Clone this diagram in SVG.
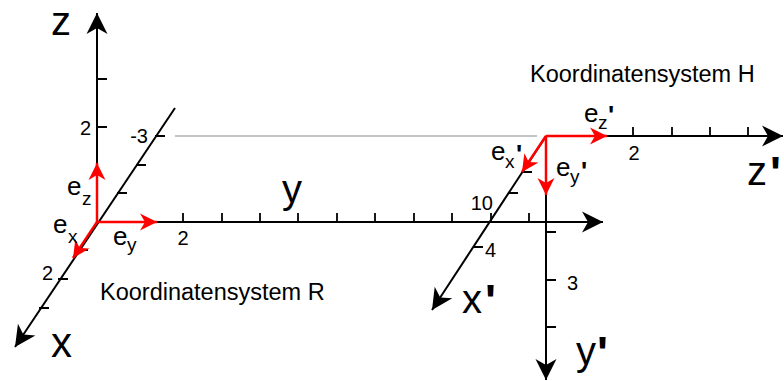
<svg xmlns="http://www.w3.org/2000/svg" width="784" height="381" viewBox="0 0 784 381">
<style>
text{font-family:"Liberation Sans",Arial,sans-serif;fill:#000}
.ax{stroke:#000;stroke-width:2;fill:none}
.tk{stroke:#000;stroke-width:1.8;fill:none}
.rd{stroke:#f00;stroke-width:2.5;fill:none}
.big{font-size:40px}
.num{font-size:20px}
.e{font-size:26px}
.sub{font-size:19px}
.pr{font-size:46px;font-weight:bold}
.spr{font-size:26px;font-weight:bold}
.ttl{font-size:23.5px}
</style>
<defs>
<marker id="ab" markerUnits="userSpaceOnUse" viewBox="-22 -12 24 24" markerWidth="24" markerHeight="24" refX="0" refY="0" orient="auto" overflow="visible">
<path d="M0,0 L-21,-10.5 L-15,0 L-21,10.5 Z" fill="#000"/>
</marker>
<marker id="ar" markerUnits="userSpaceOnUse" viewBox="-20 -10 22 20" markerWidth="22" markerHeight="20" refX="0" refY="0" orient="auto" overflow="visible">
<path d="M0,0 L-17,-8.5 L-12,0 L-17,8.5 Z" fill="#f00"/>
</marker>
</defs>
<rect width="784" height="381" fill="#fff"/>
<g id="guide">
<line x1="175" y1="136" x2="537" y2="136" stroke="#8a8a8a" stroke-width="1"/>
</g>
<g id="systemR">
<g id="axis-z">
<line class="ax" x1="97" y1="222" x2="97" y2="13" marker-end="url(#ab)"/>
<path class="tk" d="M97,79 h10 M97,127 h10"/>
<text class="big" x="51" y="35">z</text>
<text class="num" x="91" y="135" text-anchor="end">2</text>
</g>
<g id="axis-y">
<line class="ax" x1="97" y1="222" x2="603" y2="222" marker-end="url(#ab)"/>
<path class="tk" d="M183,222 v-9 M222,222 v-9 M260,222 v-9 M298,222 v-9 M337,222 v-9 M375,222 v-9 M414,222 v-9 M452,222 v-9 M491,222 v-9 M529,222 v-9"/>
<text class="big" x="282" y="203">y</text>
<text class="num" x="183" y="245" text-anchor="middle">2</text>
</g>
<g id="axis-x">
<line class="ax" x1="175" y1="108" x2="15" y2="347" marker-end="url(#ab)"/>
<path class="tk" d="M155,136 h10 M136,165 h10 M117,193 h10 M78,250 h10 M58,279 h10 M39,308 h10"/>
<text class="big" x="51" y="357" style="font-size:42px">x</text>
<text class="num" x="53" y="280" text-anchor="end">2</text>
<text class="num" x="148" y="143" text-anchor="end">-3</text>
</g>
<g id="basis-R">
<line class="rd" x1="97" y1="222" x2="97" y2="163" marker-end="url(#ar)"/>
<line class="rd" x1="97" y1="222" x2="157" y2="222" marker-end="url(#ar)"/>
<line class="rd" x1="97" y1="222" x2="73" y2="258" marker-end="url(#ar)"/>
<text class="e" x="67" y="195">e<tspan class="sub" x="82" y="205">z</tspan></text>
<text class="e" x="53" y="233">e<tspan class="sub" x="68" y="243">x</tspan></text>
<text class="e" x="113" y="245">e<tspan class="sub" x="127" y="251">y</tspan></text>
</g>
<text class="ttl" x="100" y="300">Koordinatensystem R</text>
</g>
<g id="systemH">
<g id="axis-z2">
<line class="ax" x1="546" y1="136" x2="783" y2="136" marker-end="url(#ab)"/>
<path class="tk" d="M633,136 v-9 M672,136 v-9 M710,136 v-9 M748,136 v-9"/>
<text class="big" x="747" y="185">z<tspan class="pr" dx="3" dy="4">'</tspan></text>
<text class="num" x="634" y="160" text-anchor="middle">2</text>
</g>
<g id="axis-y2">
<line class="ax" x1="546" y1="136" x2="546" y2="380" marker-end="url(#ab)"/>
<path class="tk" d="M546,232 h10 M546,280 h10 M546,327 h10"/>
<text class="big" x="576" y="365">y<tspan class="pr" dx="1" dy="4">'</tspan></text>
<text class="num" x="567" y="290">3</text>
</g>
<g id="axis-x2">
<line class="ax" x1="546" y1="136" x2="432" y2="310" marker-end="url(#ab)"/>
<path class="tk" d="M523,172 h9 M509,193 h9 M474,247 h9"/>
<text class="big" x="462" y="313">x<tspan class="pr" dx="3" dy="4">'</tspan></text>
<text class="num" x="493" y="210" text-anchor="end">10</text>
<text class="num" x="485" y="257">4</text>
</g>
<g id="basis-H">
<line class="rd" x1="546" y1="136" x2="607" y2="136" marker-end="url(#ar)"/>
<line class="rd" x1="546" y1="136" x2="522" y2="172" marker-end="url(#ar)"/>
<line class="rd" x1="546" y1="136" x2="546" y2="195" marker-end="url(#ar)"/>
<text class="e" x="584" y="122">e<tspan class="sub" x="598" y="129">z</tspan><tspan class="spr" x="608" y="124">'</tspan></text>
<text class="e" x="491" y="160">e<tspan class="sub" x="505" y="168">x</tspan><tspan class="spr" x="516" y="163">'</tspan></text>
<text class="e" x="556" y="176">e<tspan class="sub" x="570" y="183">y</tspan><tspan class="spr" x="581" y="180">'</tspan></text>
</g>
<text class="ttl" x="530" y="82">Koordinatensystem H</text>
</g>
</svg>
